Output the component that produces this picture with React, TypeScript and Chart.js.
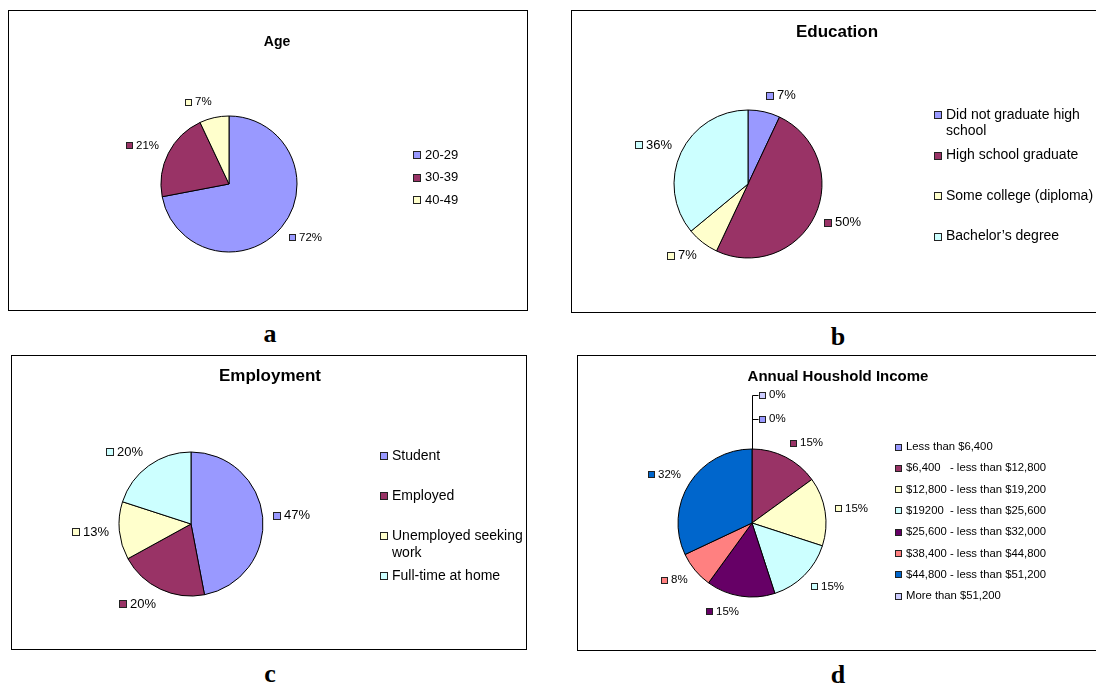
import { useEffect, useRef } from "react";
import { Chart, registerables } from "chart.js";

Chart.register(...registerables);

type Label = string | string[];

// Age
const ageLabels: Label[] = ["20-29", "30-39", "40-49"];
const ageShares = [72, 21, 7];
const ageColors = ["#9999FF", "#993366", "#FFFFCC"];

// Education
const educationLabels: Label[] = [
  ["Did not graduate high", "school"],
  "High school graduate",
  "Some college (diploma)",
  "Bachelor\u2019s degree",
];
const educationShares = [7, 50, 7, 36];
const educationColors = ["#9999FF", "#993366", "#FFFFCC", "#CCFFFF"];

// Employment
const employmentLabels: Label[] = [
  "Student",
  "Employed",
  ["Unemployed seeking", "work"],
  "Full-time at home",
];
const employmentShares = [47, 20, 13, 20];
const employmentColors = ["#9999FF", "#993366", "#FFFFCC", "#CCFFFF"];

// Annual household income
const incomeLabels: Label[] = [
  "Less than $6,400",
  "$6,400   - less than $12,800",
  "$12,800 - less than $19,200",
  "$19200  - less than $25,600",
  "$25,600 - less than $32,000",
  "$38,400 - less than $44,800",
  "$44,800 - less than $51,200",
  "More than $51,200",
];
const incomeShares = [0, 15, 15, 15, 15, 8, 32, 0];
const incomeColors = [
  "#9999FF",
  "#993366",
  "#FFFFCC",
  "#CCFFFF",
  "#660066",
  "#FF8080",
  "#0066CC",
  "#CCCCFF",
];

const SANS = '"Liberation Sans", Arial, Helvetica, sans-serif';
const SERIF = '"Liberation Serif", "Times New Roman", Times, serif';

interface PanelSpec {
  frame: [number, number, number, number]; // left, top, width, height on the page
  title: string;
  titleFont: number;
  titleAt: [number, number];
  center: [number, number];
  radius: number;
  labels: Label[];
  values: number[];
  colors: string[];
  valueFont: number;
  valueBox: number;
  valueGap: number;
  legendAt: [number, number]; // swatch left, first row middle
  legendStep: number;
  legendFont: number;
  legendBox: number;
  legendTextGap: number;
  legendLineStep: number;
  caption: string;
  captionAt: [number, number]; // centre x, top
}

const panels: PanelSpec[] = [
  {
    frame: [8, 10, 520, 301],
    title: "Age",
    titleFont: 14,
    titleAt: [277, 42],
    center: [229, 184],
    radius: 68,
    labels: ageLabels,
    values: ageShares,
    colors: ageColors,
    valueFont: 11.5,
    valueBox: 7,
    valueGap: 10,
    legendAt: [413, 155],
    legendStep: 22.5,
    legendFont: 13,
    legendBox: 8,
    legendTextGap: 4,
    legendLineStep: 16,
    caption: "a",
    captionAt: [270, 321],
  },
  {
    frame: [571, 10, 545, 303],
    title: "Education",
    titleFont: 17,
    titleAt: [837, 32],
    center: [748, 184],
    radius: 74,
    labels: educationLabels,
    values: educationShares,
    colors: educationColors,
    valueFont: 13,
    valueBox: 8,
    valueGap: 10,
    legendAt: [934, 115],
    legendStep: 40.5,
    legendFont: 14,
    legendBox: 8,
    legendTextGap: 4,
    legendLineStep: 16.5,
    caption: "b",
    captionAt: [838, 324],
  },
  {
    frame: [11, 355, 516, 295],
    title: "Employment",
    titleFont: 17,
    titleAt: [270, 376],
    center: [191, 524],
    radius: 72,
    labels: employmentLabels,
    values: employmentShares,
    colors: employmentColors,
    valueFont: 13,
    valueBox: 8,
    valueGap: 10,
    legendAt: [380, 456],
    legendStep: 40,
    legendFont: 14,
    legendBox: 8,
    legendTextGap: 4,
    legendLineStep: 17,
    caption: "c",
    captionAt: [270, 661],
  },
  {
    frame: [577, 355, 540, 296],
    title: "Annual Houshold Income",
    titleFont: 15,
    titleAt: [838, 377],
    center: [752, 523],
    radius: 74,
    labels: incomeLabels,
    values: incomeShares,
    colors: incomeColors,
    valueFont: 11.5,
    valueBox: 7,
    valueGap: 10,
    legendAt: [895, 447],
    legendStep: 21.3,
    legendFont: 11.3,
    legendBox: 7,
    legendTextGap: 4,
    legendLineStep: 13,
    caption: "d",
    captionAt: [838, 662],
  },
];

function swatch(ctx: CanvasRenderingContext2D, left: number, midY: number, size: number, color: string) {
  const x = Math.round(left) + 0.5;
  const y = Math.round(midY - size / 2) + 0.5;
  ctx.fillStyle = color;
  ctx.fillRect(x, y, size - 1, size - 1);
  ctx.strokeStyle = "#222";
  ctx.lineWidth = 1;
  ctx.strokeRect(x, y, size - 1, size - 1);
}

function panelText(spec: PanelSpec) {
  return {
    id: "panelText",
    afterDatasetsDraw(chart: any) {
      const ctx: CanvasRenderingContext2D = chart.ctx;
      const ox = spec.frame[0] + 1;
      const oy = spec.frame[1] + 1;
      const values = chart.data.datasets[0].data as number[];
      const colors = chart.data.datasets[0].backgroundColor as string[];
      ctx.save();
      ctx.textBaseline = "middle";

      // title
      ctx.fillStyle = "#000";
      ctx.textAlign = "center";
      ctx.font = `bold ${spec.titleFont}px ${SANS}`;
      ctx.fillText(spec.title, spec.titleAt[0] - ox, spec.titleAt[1] - oy);

      // percentage labels outside each slice
      ctx.textAlign = "left";
      ctx.font = `${spec.valueFont}px ${SANS}`;
      const meta = chart.getDatasetMeta(0);
      const zeros = values.map((v, i) => (v === 0 ? i : -1)).filter((i) => i >= 0);
      meta.data.forEach((el: any, i: number) => {
        const { x, y, startAngle, endAngle, outerRadius } = el.getProps(
          ["x", "y", "startAngle", "endAngle", "outerRadius"],
          true
        );
        const text = `${values[i]}%`;
        const b = spec.valueBox;
        const w = b + 3 + ctx.measureText(text).width;
        const h = spec.valueFont;
        let left: number;
        let midY: number;
        if (values[i] === 0) {
          // empty slices are stacked above the pie on a leader line
          const k = zeros.indexOf(i);
          const top = y - outerRadius;
          midY = Math.round(top - 30 - 24 * k);
          const lx = Math.round(x) + 0.5;
          ctx.strokeStyle = "#000";
          ctx.lineWidth = 1;
          ctx.beginPath();
          ctx.moveTo(lx, top);
          ctx.lineTo(lx, midY + 0.5);
          ctx.lineTo(lx + 6, midY + 0.5);
          ctx.stroke();
          left = lx + 6;
        } else {
          // label sits beside the anchor point, on the side the slice faces
          const mid = (startAngle + endAngle) / 2;
          const c = Math.cos(mid);
          const s = Math.sin(mid);
          const px = x + (outerRadius + spec.valueGap) * c;
          const py = y + (outerRadius + spec.valueGap) * s;
          left = c >= 0 ? px : px - w;
          midY = py + (s * h) / 2;
        }
        swatch(ctx, left, midY, b, colors[i]);
        ctx.fillStyle = "#000";
        ctx.fillText(text, Math.round(left) + b + 3, midY);
      });

      // legend
      ctx.font = `${spec.legendFont}px ${SANS}`;
      const lx = spec.legendAt[0] - ox;
      chart.data.labels.forEach((lab: Label, i: number) => {
        const yy = spec.legendAt[1] - oy + i * spec.legendStep;
        swatch(ctx, lx, yy, spec.legendBox, colors[i]);
        ctx.fillStyle = "#000";
        const lines = Array.isArray(lab) ? lab : [lab];
        lines.forEach((ln, j) => {
          ctx.fillText(ln, lx + spec.legendBox + spec.legendTextGap, yy + j * spec.legendLineStep);
        });
      });
      ctx.restore();
    },
  };
}

function PiePanel({ spec }: { spec: PanelSpec }) {
  const ref = useRef<HTMLCanvasElement | null>(null);
  const [fl, ft, fw, fh] = spec.frame;
  const w = fw - 2;
  const h = fh - 2;

  useEffect(() => {
    if (!ref.current) return;
    const cx = spec.center[0] - fl - 1;
    const cy = spec.center[1] - ft - 1;
    const r = spec.radius;
    const chart = new Chart(ref.current, {
      type: "pie",
      data: {
        labels: spec.labels as any,
        datasets: [
          {
            data: spec.values,
            backgroundColor: spec.colors,
            borderColor: "#000",
            borderWidth: 1,
            radius: r,
          } as any,
        ],
      },
      options: {
        responsive: false,
        animation: false,
        events: [],
        layout: {
          padding: { left: cx - r, right: w - cx - r, top: cy - r, bottom: h - cy - r },
        },
        plugins: {
          legend: { display: false },
          title: { display: false },
          tooltip: { enabled: false },
        },
      },
      plugins: [panelText(spec)],
    });
    return () => chart.destroy();
  }, [spec]);

  return (
    <>
      <div
        style={{
          position: "absolute",
          left: fl,
          top: ft,
          width: w,
          height: h,
          border: "1px solid #000",
          background: "#fff",
        }}
      >
        <canvas ref={ref} width={w} height={h} style={{ display: "block" }} />
      </div>
      <div
        style={{
          position: "absolute",
          left: spec.captionAt[0] - 30,
          top: spec.captionAt[1],
          width: 60,
          textAlign: "center",
          font: `bold 26px ${SERIF}`,
          lineHeight: "26px",
          color: "#000",
        }}
      >
        {spec.caption}
      </div>
    </>
  );
}

export default function App() {
  return (
    <div
      style={{
        position: "absolute",
        left: 0,
        top: 0,
        width: 1096,
        height: 683,
        overflow: "hidden",
        background: "#fff",
      }}
    >
      {panels.map((p) => (
        <PiePanel key={p.caption} spec={p} />
      ))}
    </div>
  );
}
